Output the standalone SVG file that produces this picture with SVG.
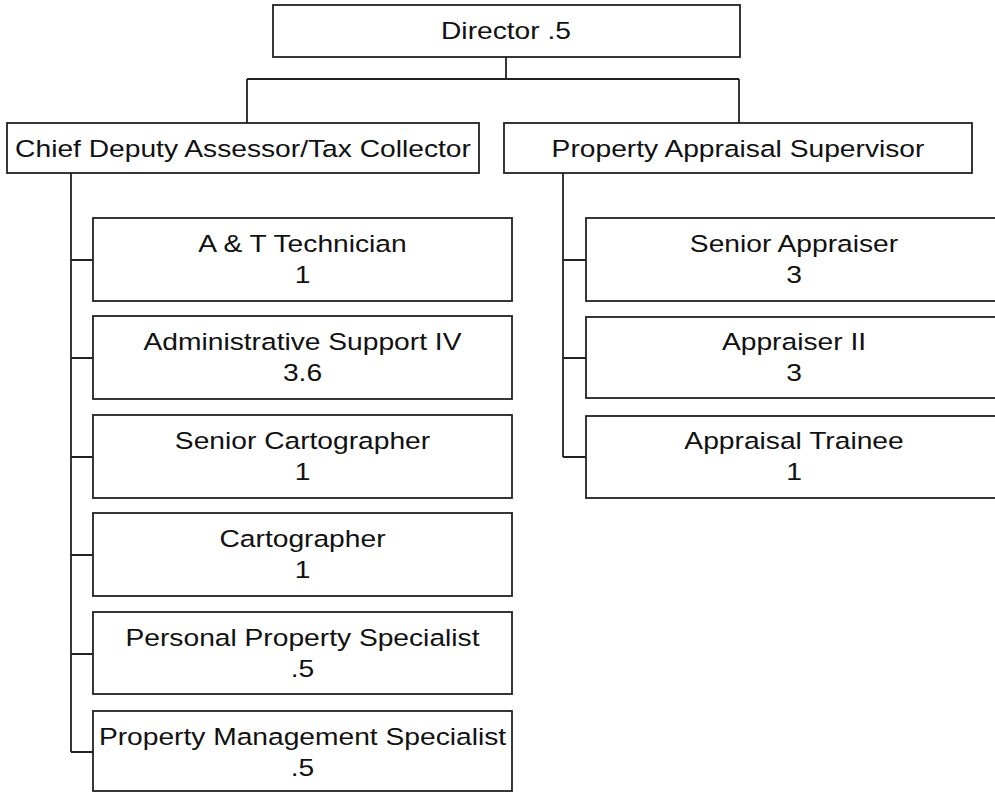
<svg xmlns="http://www.w3.org/2000/svg" width="995" height="793" viewBox="0 0 995 793">
<style>
.box{fill:#fff;stroke:#222;stroke-width:1.8}
.ln{fill:none;stroke:#222;stroke-width:1.8}
text{font-family:"Liberation Sans",Arial,sans-serif;font-size:23.5px;fill:#111;text-anchor:middle}
</style>
<rect width="995" height="793" fill="#fff"/>
<g id="connectors">
<path class="ln" d="M506,57 V79 M247,79 H739 M247,79 V123 M739,79 V123"/>
<path class="ln" d="M71,173 V752 M71,260 H93 M71,358 H93 M71,457 H93 M71,555 H93 M71,654 H93 M71,752 H93"/>
<path class="ln" d="M563,173 V457 M563,260 H586 M563,358 H586 M563,457 H586"/>
</g>
<g id="director"><rect class="box" x="273" y="5" width="467" height="52"/><text transform="translate(506,39) scale(1.2,1)">Director .5</text></g>
<g id="chief"><rect class="box" x="7" y="123" width="472" height="50"/><text transform="translate(243,157) scale(1.2,1)">Chief Deputy Assessor/Tax Collector</text></g>
<g id="pas"><rect class="box" x="504" y="123" width="468" height="50"/><text transform="translate(738,157) scale(1.2,1)">Property Appraisal Supervisor</text></g>
<g id="at"><rect class="box" x="93" y="218" width="419" height="83"/><text transform="translate(302.5,252) scale(1.2,1)">A &amp; T Technician</text><text transform="translate(302.5,283) scale(1.2,1)">1</text></g>
<g id="admin"><rect class="box" x="93" y="316" width="419" height="83"/><text transform="translate(302.5,350) scale(1.2,1)">Administrative Support IV</text><text transform="translate(302.5,381) scale(1.2,1)">3.6</text></g>
<g id="seniorcart"><rect class="box" x="93" y="415" width="419" height="83"/><text transform="translate(302.5,449) scale(1.2,1)">Senior Cartographer</text><text transform="translate(302.5,480) scale(1.2,1)">1</text></g>
<g id="cart"><rect class="box" x="93" y="513" width="419" height="83"/><text transform="translate(302.5,547) scale(1.2,1)">Cartographer</text><text transform="translate(302.5,578) scale(1.2,1)">1</text></g>
<g id="pps"><rect class="box" x="93" y="612" width="419" height="82"/><text transform="translate(302.5,646) scale(1.2,1)">Personal Property Specialist</text><text transform="translate(302.5,677) scale(1.2,1)">.5</text></g>
<g id="pms"><rect class="box" x="93" y="711" width="419" height="80"/><text transform="translate(302.5,745) scale(1.2,1)">Property Management Specialist</text><text transform="translate(302.5,776) scale(1.2,1)">.5</text></g>
<g id="senapp"><rect class="box" x="586" y="218" width="416" height="83"/><text transform="translate(794,252) scale(1.2,1)">Senior Appraiser</text><text transform="translate(794,283) scale(1.2,1)">3</text></g>
<g id="app2"><rect class="box" x="586" y="317" width="416" height="81"/><text transform="translate(794,350) scale(1.2,1)">Appraiser II</text><text transform="translate(794,381) scale(1.2,1)">3</text></g>
<g id="trainee"><rect class="box" x="586" y="416" width="416" height="82"/><text transform="translate(794,449) scale(1.2,1)">Appraisal Trainee</text><text transform="translate(794,480) scale(1.2,1)">1</text></g>
</svg>
